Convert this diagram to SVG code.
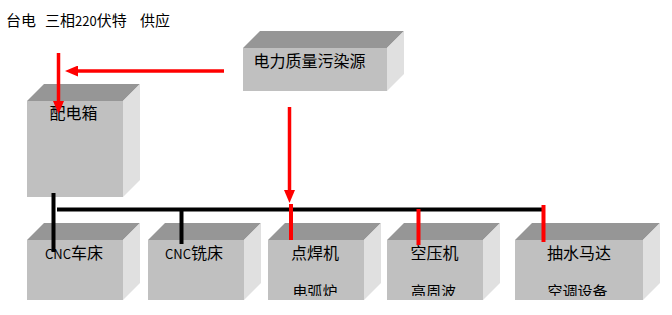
<svg xmlns="http://www.w3.org/2000/svg" width="672" height="315" viewBox="0 0 672 315">
<style>
.front{fill:#C0C0C0}
.top{fill:#969696}
.side{fill:#E0E0E0}
text{font-family:'Noto Sans CJK SC','Noto Sans',sans-serif;font-size:16px;fill:#000}
.sub{font-size:15px}
.lat{font-size:13px}
.red{stroke:#FF0000;stroke-width:3.5;fill:none}
.redd{stroke:#FF0000;stroke-width:4;fill:none}
.blk{stroke:#000;stroke-width:4;fill:none}
</style>
<defs>
<marker id="ah" markerUnits="userSpaceOnUse" markerWidth="13" markerHeight="11" refX="5" refY="5.5" orient="auto">
<path d="M0,0 L13,5.5 L0,11 z" fill="#FF0000"/>
</marker>
<clipPath id="cut"><rect x="0" y="0" width="672" height="296"/></clipPath>
</defs>
<rect width="672" height="315" fill="#FFFFFF"/>

<g id="title">
<text x="6" y="26" style="font-size:15px"><tspan x="6">台电</tspan><tspan x="45">三相<tspan class="lat">220</tspan>伏特</tspan><tspan x="140">供应</tspan></text>
</g>

<g id="pollution">
<polygon class="top" points="243,48 260,31 404,31 387,48"/>
<polygon class="side" points="387,48 404,31 404,74 387,91"/>
<rect class="front" x="243" y="48" width="144" height="43"/>
<text x="253.5" y="67">电力质量污染源</text>
</g>

<g id="peidianxiang">
<polygon class="top" points="27,101 44,84 140,84 123,101"/>
<polygon class="side" points="123,101 140,84 140,180 123,197"/>
<rect class="front" x="27" y="101" width="96" height="96"/>
<text x="49.5" y="118.5">配电箱</text>
</g>

<g id="cnc1">
<polygon class="top" points="27,240 44,223 140,223 123,240"/>
<polygon class="side" points="123,240 140,223 140,283 123,300"/>
<rect class="front" x="27" y="240" width="96" height="60"/>
<text x="45" y="258.5"><tspan class="lat">CNC</tspan>车床</text>
</g>

<g id="cnc2">
<polygon class="top" points="148,240 165,223 261,223 244,240"/>
<polygon class="side" points="244,240 261,223 261,283 244,300"/>
<rect class="front" x="148" y="240" width="96" height="60"/>
<text x="165" y="258.5"><tspan class="lat">CNC</tspan>铣床</text>
</g>

<g id="dianhanji">
<polygon class="top" points="268,240 285,223 381,223 364,240"/>
<polygon class="side" points="364,240 381,223 381,283 364,300"/>
<rect class="front" x="268" y="240" width="96" height="60"/>
<text x="291" y="258.5">点焊机</text>
<text class="sub" x="292.5" y="297" clip-path="url(#cut)">电弧炉</text>
</g>

<g id="kongyaji">
<polygon class="top" points="387,240 404,223 500,223 483,240"/>
<polygon class="side" points="483,240 500,223 500,283 483,300"/>
<rect class="front" x="387" y="240" width="96" height="60"/>
<text x="410.5" y="258.5">空压机</text>
<text class="sub" x="411" y="297" clip-path="url(#cut)">高周波</text>
</g>

<g id="choushui">
<polygon class="top" points="515,240 532,223 660,223 643,240"/>
<polygon class="side" points="643,240 660,223 660,283 643,300"/>
<rect class="front" x="515" y="240" width="128" height="60"/>
<text x="547" y="258.5">抽水马达</text>
<text class="sub" x="547.5" y="297" clip-path="url(#cut)">空调设备</text>
</g>

<g id="connectors">
<line class="blk" x1="53.5" y1="193" x2="53.5" y2="252"/>
<line class="blk" x1="57" y1="209.5" x2="542" y2="209.5"/>
<line class="blk" x1="181.5" y1="209.5" x2="181.5" y2="244"/>
<line class="red" x1="224" y1="71" x2="73" y2="71" marker-end="url(#ah)"/>
<line class="red" x1="58.5" y1="53" x2="58.5" y2="106" marker-end="url(#ah)"/>
<line class="red" x1="289.5" y1="107" x2="289.5" y2="195" marker-end="url(#ah)"/>
<line class="redd" x1="291" y1="204" x2="291" y2="240"/>
<line class="redd" x1="418.5" y1="209" x2="418.5" y2="245"/>
<line class="redd" x1="543.5" y1="205" x2="543.5" y2="242"/>
</g>
</svg>
